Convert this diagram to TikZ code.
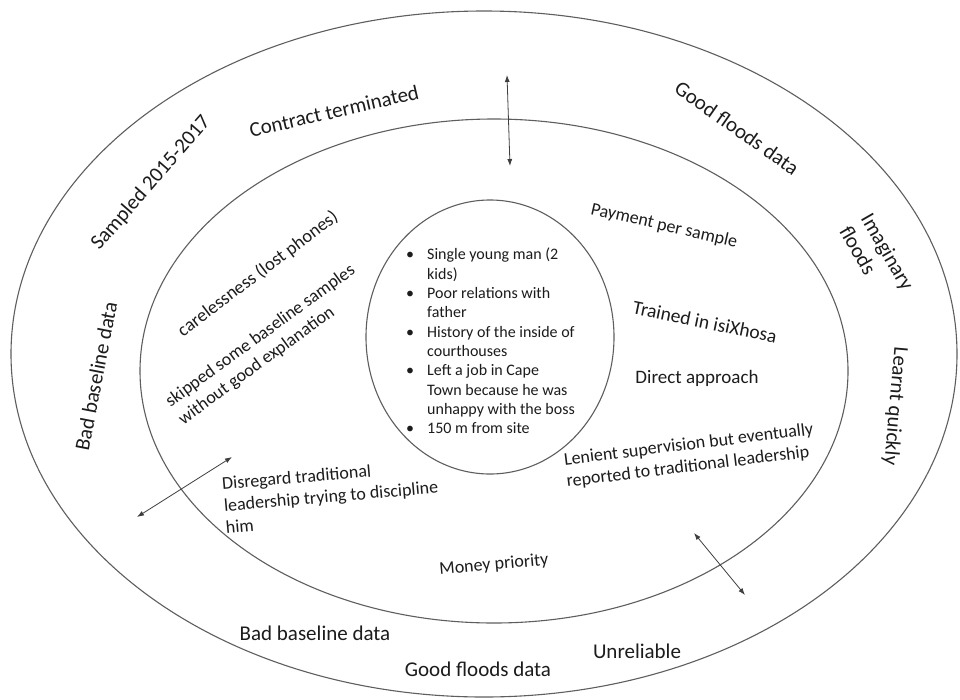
\documentclass[tikz,border=0pt]{standalone}
\usepackage{fontspec}
\setmainfont{Carlito}
\usetikzlibrary{shapes.geometric,arrows.meta}
\definecolor{ringgray}{HTML}{5E5E5E}
\definecolor{ink}{HTML}{1C1C1C}
\newcommand\itembul{\makebox[21pt][l]{\textbullet}}
\newcommand\itemind{\hspace*{21pt}}
\begin{document}
\begin{tikzpicture}[x=1pt,y=-1pt,
  ring/.style={draw=ringgray, line width=1.1pt, ellipse, inner sep=0pt},
  lbl/.style={text=ink, inner sep=0pt},
  big/.style={lbl, font=\fontsize{21}{25}\selectfont},
  mid/.style={lbl, font=\fontsize{18}{22}\selectfont},
  dbl/.style={draw=ink!85, line width=0.8pt, {Latex[length=7pt,width=5pt]}-{Latex[length=7pt,width=5pt]}}]
\fill[white] (0,0) rectangle (960,699);
\useasboundingbox (0,0) rectangle (960,699);

% three nested rings
\node[ring, minimum width=946pt, minimum height=686pt] (outer) at (484,354) {};
\node[ring, minimum width=708pt, minimum height=504pt] (middle) at (494,371) {};
\node[ring, minimum width=248pt, minimum height=274pt] (inner) at (490,337) {};

% core profile
\node[lbl, anchor=north west, align=left, font=\fontsize{16}{19.33}\selectfont] (core) at (406,248) {%
\itembul Single young man (2\\
\itemind kids)\\
\itembul Poor relations with\\
\itemind father\\
\itembul History of the inside of\\
\itemind courthouses\\
\itembul Left a job in Cape\\
\itemind Town because he was\\
\itemind unhappy with the boss\\
\itembul 150 m from site};

% outer band
\node[big, rotate=49] (sampled) at (151,183) {Sampled 2015-2017};
\node[big, rotate=13] (contract) at (334,111) {Contract terminated};
\node[big, rotate=-35] (goodtop) at (737,128) {Good floods data};
\node[big, rotate=-60, align=left] (imag) at (877,258) {Imaginary\\floods};
\node[big, rotate=-95] (learnt) at (895,406) {Learnt quickly};
\node[big, rotate=79] (badleft) at (96,376) {Bad baseline data};
\node[big] (badbottom) at (315,633) {Bad baseline data};
\node[big] (goodbottom) at (478,669) {Good floods data};
\node[big] (unrel) at (637,651) {Unreliable};

% middle band
\node[mid, rotate=37, font=\fontsize{18.5}{22}\selectfont] (careless) at (258,274) {carelessness (lost phones)};
\node[mid, rotate=36, align=left] (skipped) at (267,345) {skipped some baseline samples\\without good explanation};
\node[mid, rotate=-12.8] (payment) at (664,226) {Payment per sample};
\node[mid, rotate=-11.6, font=\fontsize{19.5}{23}\selectfont] (trained) at (705,322) {Trained in isiXhosa};
\node[mid, font=\fontsize{19}{23}\selectfont] (direct) at (697,378) {Direct approach};
\node[mid, rotate=7, align=left] (lenient) at (690,456) {Lenient supervision but eventually\\reported to traditional leadership};
\node[mid, rotate=5, align=left] (disregard) at (331,496) {Disregard traditional\\leadership trying to discipline\\him};
\node[mid, rotate=5] (money) at (494,565) {Money priority};

% two-way arrows across the ring boundaries
\coordinate (topA) at (507,75);
\coordinate (topB) at (510,166);
\coordinate (leftA) at (232,457);
\coordinate (leftB) at (137,517);
\coordinate (rightA) at (694,533);
\coordinate (rightB) at (745,595);
\draw[dbl] (topA) -- (topB);
\draw[dbl] (leftA) -- (leftB);
\draw[dbl] (rightA) -- (rightB);
\end{tikzpicture}
\end{document}
